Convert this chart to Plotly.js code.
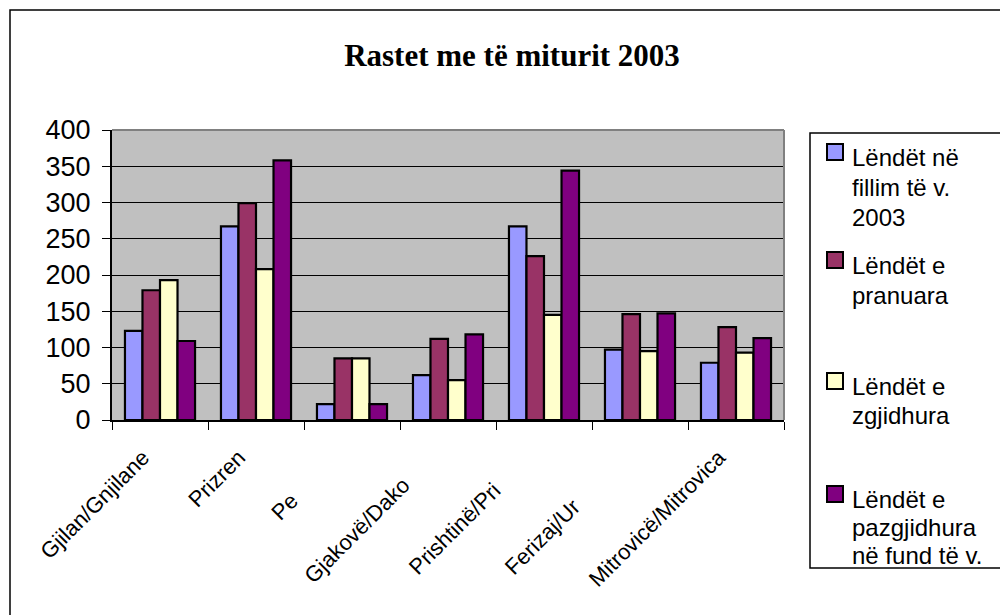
<!DOCTYPE html>
<html>
<head>
<meta charset="utf-8">
<script src="https://cdn.plot.ly/plotly-3.0.1.min.js"></script>
<style>
html,body{margin:0;padding:0;background:#fff;}
#chart{width:1000px;height:615px;}
</style>
</head>
<body>
<div id="chart"></div>
<script>
// ---- data ----
const categories = ["Gjilan/Gnjilane", "Prizren", "Pejë/Peć", "Gjakovë/Đakovica", "Prishtinë/Priština", "Ferizaj/Uroševac", "Mitrovicë/Mitrovica"];
// visible (clipped) part of each tick label, and the clipped-off remainder
const tickLabels = ["Gjilan/Gnjilane", "Prizren", "Pe", "Gjakovë/Dako", "Prishtinë/Pri", "Ferizaj/Ur", "Mitrovicë/Mitrovica"];
const tickTails  = ["", "", "jë/Peć", "vica", "ština", "oševac", ""];
const seriesNames = ["Lëndët në fillim të v. 2003", "Lëndët e pranuara", "Lëndët e zgjidhura", "Lëndët e pazgjidhura në fund të v. 2003"];
const legendLines = [
  ["Lëndët në", "fillim të v.", "2003"],
  ["Lëndët e", "pranuara"],
  ["Lëndët e", "zgjidhura"],
  ["Lëndët e", "pazgjidhura", "në fund të v."]
];
const fillimi     = [123, 267, 22, 62, 267, 97, 79];
const pranuara    = [179, 299, 85, 112, 226, 146, 128];
const zgjidhura   = [193, 208, 85, 55, 145, 95, 93];
const pazgjidhura = [109, 358, 22, 118, 344, 147, 113];
const yTicks = [0, 50, 100, 150, 200, 250, 300, 350, 400];
const chartTitle = "Rastet me të miturit 2003";

// ---- styles ----
const colors = ["#9999FF", "#993366", "#FFFFCC", "#800080"];
const values = [fillimi, pranuara, zgjidhura, pazgjidhura];

const W = 1000, H = 615;
const PL = 112, PR = 784, PT = 130, PB = 420;
const px2x = p => (p - PL) / (PR - PL);
const px2y = p => (PB - p) / (PB - PT);

const tickText = tickLabels.map((t, i) =>
  tickTails[i] ? t + '<span style="color:rgba(0,0,0,0)">' + tickTails[i] + '</span>' : t);

const traces = values.map((v, i) => ({
  type: "bar",
  name: seriesNames[i],
  x: categories,
  y: v,
  marker: {color: colors[i], line: {color: "#000", width: 2.2}},
  showlegend: false,
  hoverinfo: "x+y+name"
}));

const legendFontSize = 24;
const baselines = [[165, 195, 225], [273, 303], [394, 423], [507, 535, 563]];
const annotations = [];
const shapes = [];
legendLines.forEach((lines, i) => {
  lines.forEach((ln, j) => {
    annotations.push({
      xref: "paper", yref: "paper",
      x: px2x(850), y: px2y(baselines[i][j] - 8),
      xanchor: "left", yanchor: "middle",
      text: ln, showarrow: false,
      font: {family: "Liberation Sans, Arial, sans-serif", size: legendFontSize, color: "#000"}
    });
  });
  const b = baselines[i][0];
  shapes.push({
    type: "rect", xref: "paper", yref: "paper",
    x0: px2x(827), x1: px2x(843), y0: px2y(b - 21), y1: px2y(b - 5),
    fillcolor: colors[i], line: {color: "#000", width: 2}
  });
});
// legend box
shapes.push({type: "rect", xref: "paper", yref: "paper",
  x0: px2x(810), x1: px2x(1015), y0: px2y(133), y1: px2y(568),
  line: {color: "#000", width: 1.5}, fillcolor: "rgba(0,0,0,0)"});
// outer chart frame (top & left visible)
shapes.push({type: "rect", xref: "paper", yref: "paper",
  x0: px2x(10), x1: px2x(1020), y0: px2y(10), y1: px2y(640),
  line: {color: "#000", width: 1.5}, fillcolor: "rgba(0,0,0,0)"});
// plot area top/right edges (grey)
shapes.push({type: "line", xref: "paper", yref: "paper", x0: 0, x1: 1, y0: 1, y1: 1,
  line: {color: "#808080", width: 2}});
shapes.push({type: "line", xref: "paper", yref: "paper", x0: 1, x1: 1, y0: 0, y1: 1,
  line: {color: "#808080", width: 2}});

const layout = {
  width: W, height: H,
  margin: {l: PL, r: W - PR, t: PT, b: H - PB},
  paper_bgcolor: "#fff",
  plot_bgcolor: "#C0C0C0",
  barmode: "group",
  bargap: 0.27,
  bargroupgap: 0,
  showlegend: false,
  title: {
    text: "<b>" + chartTitle + "</b>",
    x: 0.512, xref: "container", xanchor: "center",
    y: 1 - 55 / H, yref: "container", yanchor: "middle",
    font: {family: "Liberation Serif, Times New Roman, serif", size: 31, color: "#000"}
  },
  xaxis: {
    type: "category",
    tickvals: categories, ticktext: tickText,
    tickangle: -45,
    tickson: "boundaries",
    ticks: "outside", ticklen: 8, tickcolor: "#000", tickwidth: 1,
    ticklabelshift: -17, ticklabelstandoff: 14,
    showline: true, linecolor: "#000", linewidth: 2,
    showgrid: false,
    tickfont: {family: "Liberation Sans, Arial, sans-serif", size: 22, color: "#000"}
  },
  yaxis: {
    range: [0, 400],
    tickvals: yTicks,
    ticks: "outside", ticklen: 8, tickcolor: "#000", tickwidth: 1,
    showline: true, linecolor: "#000", linewidth: 2,
    showgrid: true, gridcolor: "#000", gridwidth: 1,
    zeroline: false,
    ticklabelstandoff: 6,
    tickfont: {family: "Liberation Sans, Arial, sans-serif", size: 27, color: "#000"}
  },
  annotations: annotations,
  shapes: shapes
};

Plotly.newPlot("chart", traces, layout, {displayModeBar: false, staticPlot: true});
</script>
</body>
</html>
